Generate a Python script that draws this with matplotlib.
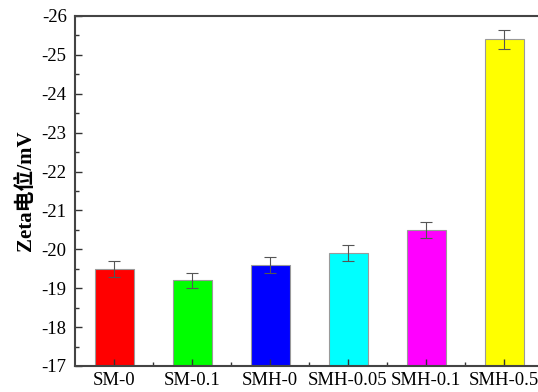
import numpy as np
import matplotlib
matplotlib.use("Agg")
import matplotlib.pyplot as plt
from matplotlib.ticker import MultipleLocator

# Zeta 电位数据 (mV)
samples = ["SM-0", "SM-0.1", "SMH-0", "SMH-0.05", "SMH-0.1", "SMH-0.5"]
zeta = [-19.5, -19.2, -19.6, -19.9, -20.5, -25.4]
zeta_err = [0.2, 0.2, 0.2, 0.2, 0.2, 0.25]
colors = ["#ff0000", "#00ff00", "#0000ff", "#00ffff", "#ff00ff", "#ffff00"]

plt.rcParams["font.family"] = ["Liberation Serif", "Noto Sans CJK SC"]
plt.rcParams["axes.unicode_minus"] = False

fig = plt.figure(figsize=(5.38, 3.92), dpi=100)
ax = fig.add_axes([75 / 538, 26 / 392, 468 / 538, 350 / 392])

x = np.arange(len(samples))
base = -17
heights = [v - base for v in zeta]
ax.bar(x, heights, bottom=base, width=0.5, color=colors,
       edgecolor="#9a9a9a", linewidth=0.8)
ax.errorbar(x, zeta, yerr=zeta_err, fmt="none", ecolor="#555555",
            elinewidth=0.8, capsize=4, capthick=0.8)

ax.set_xlim(-0.5, 5.5)
ax.set_ylim(-17, -26)
ax.yaxis.set_major_locator(MultipleLocator(1))
ax.yaxis.set_minor_locator(MultipleLocator(0.5))
ax.set_xticks(x)
ax.set_xticks(x[:-1] + 0.5, minor=True)
ax.set_xticklabels(samples)
ax.tick_params(axis="both", which="major", direction="in", length=5,
               width=1, labelsize=13.5, color="#333333")
ax.tick_params(axis="x", which="major", pad=4)
ax.tick_params(axis="y", which="major", pad=6)
ax.tick_params(axis="both", which="minor", direction="in", length=3,
               width=1, color="#333333")
ax.set_ylabel("Zeta电位/mV", fontsize=15, fontweight="bold", labelpad=4)

for s in ax.spines.values():
    s.set_linewidth(1.5)
    s.set_color("#444444")

fig.savefig("out.png", dpi=100)
